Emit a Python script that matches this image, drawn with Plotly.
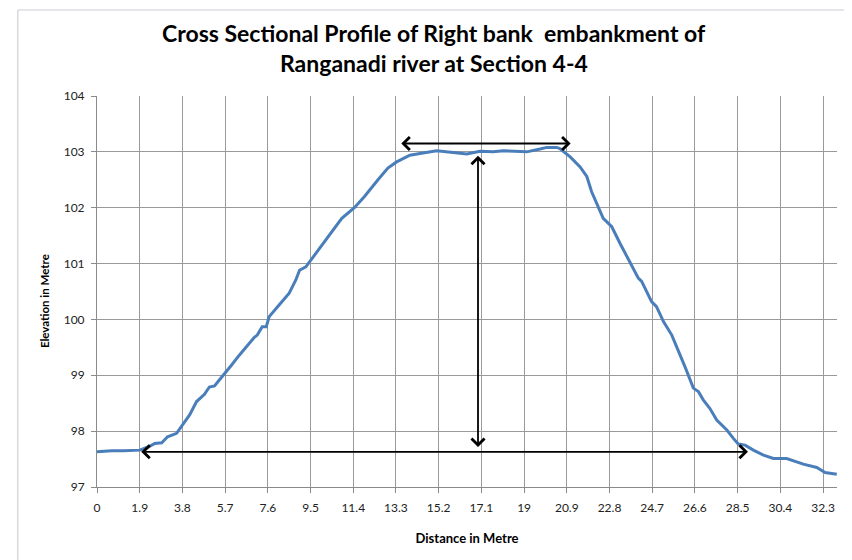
import plotly.graph_objects as go

distance = [0, 0.3, 0.66, 1.2, 1.9, 2.3, 2.57, 2.88, 3.14, 3.54, 3.76, 4.12, 4.43, 4.78, 5.0, 5.23,
            5.45, 5.71, 5.98, 6.33, 6.78, 7.0, 7.13, 7.35, 7.53, 7.66, 8.1, 8.55, 8.85, 9.01, 9.29,
            9.62, 10.37, 10.89, 11.45, 11.9, 12.5, 12.94, 13.33, 13.92, 14.37, 15.11, 15.84, 16.45,
            17.04, 17.63, 18.08, 18.52, 19.12, 19.71, 20.01, 20.45, 20.59, 21.05, 21.49, 21.79, 22.0,
            22.52, 22.9, 23.27, 23.71, 24.08, 24.23, 24.67, 24.89, 25.2, 25.57, 25.86, 26.16, 26.53,
            26.75, 26.97, 27.26, 27.57, 28.02, 28.31, 28.53, 28.83, 29.2, 29.65, 30.09, 30.68, 31.12,
            31.42, 32.02, 32.39, 32.91]
elevation = [97.63, 97.64, 97.65, 97.65, 97.66, 97.72, 97.78, 97.79, 97.90, 97.96, 98.08, 98.29, 98.53,
             98.66, 98.79, 98.81, 98.92, 99.04, 99.18, 99.36, 99.57, 99.68, 99.72, 99.87, 99.87, 100.05,
             100.26, 100.47, 100.71, 100.88, 100.94, 101.12, 101.54, 101.81, 102.0, 102.2, 102.5, 102.71,
             102.82, 102.94, 102.97, 103.02, 102.99, 102.96, 103.01, 103.0, 103.02, 103.01, 103.0, 103.05,
             103.08, 103.08, 103.06, 102.91, 102.73, 102.56, 102.29, 101.81, 101.66, 101.36, 101.03,
             100.74, 100.68, 100.32, 100.23, 99.96, 99.72, 99.45, 99.15, 98.77, 98.71, 98.56, 98.41,
             98.2, 98.02, 97.87, 97.77, 97.75, 97.66, 97.57, 97.51, 97.51, 97.45, 97.41, 97.35, 97.26, 97.23]

x_ticks = [0, 1.9, 3.8, 5.7, 7.6, 9.5, 11.4, 13.3, 15.2, 17.1, 19, 20.9, 22.8, 24.7, 26.6, 28.5, 30.4, 32.3]
x_tick_labels = ["0", "1.9", "3.8", "5.7", "7.6", "9.5", "11.4", "13.3", "15.2", "17.1", "19", "20.9",
                 "22.8", "24.7", "26.6", "28.5", "30.4", "32.3"]
y_ticks = [97, 98, 99, 100, 101, 102, 103, 104]

# double-headed arrows: (x_start, y_start, x_end, y_end)
top_arrow = (13.47, 103.15, 21.07, 103.15)
vert_arrow = (16.95, 97.69, 16.95, 102.93)
base_arrow = (1.9, 97.63, 28.96, 97.63)

title_line1 = "Cross Sectional Profile of Right bank  embankment of"
title_line2 = "Ranganadi river at Section 4-4"
x_title = "Distance in Metre"
y_title = "Elevation in Metre"

fig = go.Figure()
fig.add_trace(go.Scatter(x=distance, y=elevation, mode="lines",
                         line=dict(color="#4a7ebb", width=3), showlegend=False, hoverinfo="x+y"))

for (x0, y0, x1, y1) in (top_arrow, vert_arrow, base_arrow):
    fig.add_annotation(x=x1, y=y1, ax=x0, ay=y0, xref="x", yref="y", axref="x", ayref="y",
                       text="", showarrow=True, arrowside="end+start",
                       arrowhead=4, startarrowhead=4, arrowsize=1.4, startarrowsize=1.4,
                       arrowwidth=1.8, arrowcolor="black")

fig.add_annotation(text=title_line1, xref="paper", yref="paper", x=0.456, y=1.161,
                   showarrow=False, xanchor="center", yanchor="middle",
                   font=dict(family="Lato", size=23, color="black", weight="bold"))
fig.add_annotation(text=title_line2, xref="paper", yref="paper", x=0.456, y=1.084,
                   showarrow=False, xanchor="center", yanchor="middle",
                   font=dict(family="Lato", size=23, color="black", weight="bold"))
fig.add_annotation(text=y_title, xref="paper", yref="paper", x=-0.07, y=0.476, textangle=-90,
                   showarrow=False, xanchor="center", yanchor="middle",
                   font=dict(family="Lato", size=11.5, color="black", weight="bold"))

# faint outer frame lines of the chart area
fig.add_shape(type="line", xref="paper", yref="paper", x0=-0.107, x1=-0.107, y0=-0.19, y1=1.22,
              line=dict(color="#c8c8c8", width=1))
fig.add_shape(type="line", xref="paper", yref="paper", x0=-0.107, x1=1.02, y0=1.22, y1=1.22,
              line=dict(color="#c8ccd4", width=1))

fig.update_xaxes(range=[0, 32.92], tickmode="array", tickvals=x_ticks, ticktext=x_tick_labels,
                 showgrid=True, gridcolor="#9a9a9a", gridwidth=1,
                 showline=True, linecolor="#8a8a8a", linewidth=1,
                 ticks="outside", ticklen=5, tickcolor="#8a8a8a", ticklabelstandoff=5,
                 tickfont=dict(family="Lato", size=12, color="#222"),
                 title=dict(text="<b>" + x_title + "</b>", font=dict(family="Lato", size=13, color="black"),
                            standoff=19),
                 zeroline=False)
fig.update_yaxes(range=[97, 104], tickmode="array", tickvals=y_ticks,
                 showgrid=True, gridcolor="#9a9a9a", gridwidth=1,
                 showline=True, linecolor="#8a8a8a", linewidth=1,
                 ticks="outside", ticklen=5, tickcolor="#8a8a8a", ticklabelstandoff=4,
                 tickfont=dict(family="Lato", size=12, color="#222"),
                 zeroline=False)

# the page body has an 8px margin, so the figure is sized and offset to compensate
fig.update_layout(width=844, height=552, margin=dict(l=89, r=15, t=88, b=73),
                  paper_bgcolor="white", plot_bgcolor="white", showlegend=False)

fig.write_html("out.html")
